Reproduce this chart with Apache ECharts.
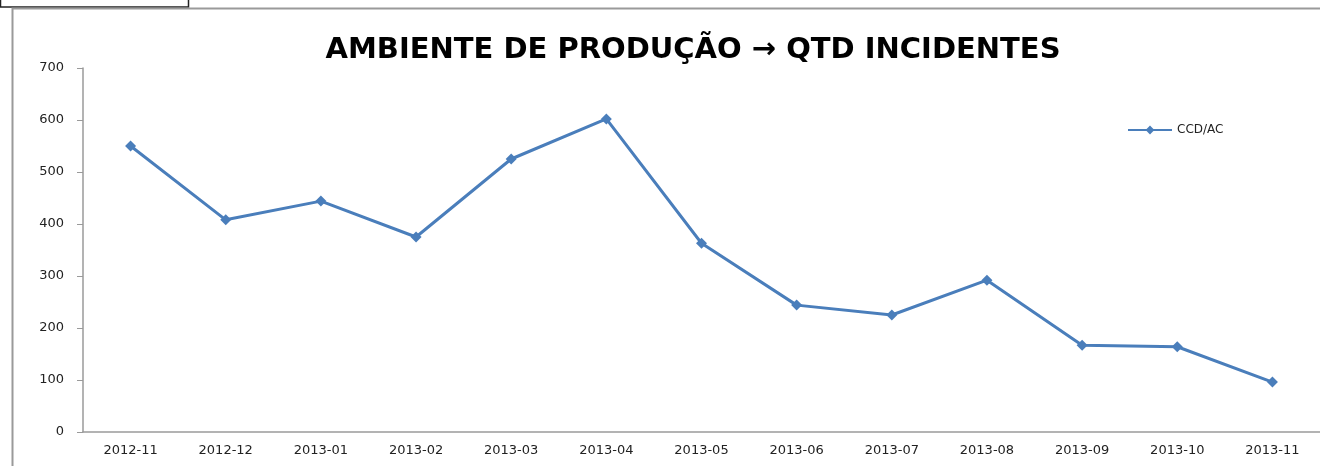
<!DOCTYPE html>
<html>
<head>
<meta charset="utf-8">
<script src="https://cdn.jsdelivr.net/npm/echarts@6/dist/echarts.min.js"></script>
<style>
  html, body { margin: 0; padding: 0; background: #fff; }
  #chart { width: 1320px; height: 466px; }
</style>
</head>
<body>
<div id="chart"></div>
<script>
// meses e quantidade de incidentes
const months = ['2012-11', '2012-12', '2013-01', '2013-02', '2013-03', '2013-04', '2013-05',
  '2013-06', '2013-07', '2013-08', '2013-09', '2013-10', '2013-11']
const ccdAc = [550, 408, 444, 375, 525, 602, 363, 244, 225, 292, 167, 164, 96]

const chart = echarts.init(document.getElementById('chart'))
chart.setOption({
  backgroundColor: '#fff',
  animation: false,
  title: {
    text: 'AMBIENTE DE PRODUÇÃO → QTD INCIDENTES',
    left: 688,
    textAlign: 'center',
    top: 31,
    textStyle: { fontFamily: 'DejaVu Sans', fontWeight: 'bold', fontSize: 29, color: '#000' }
  },
  legend: {
    left: 1122,
    top: 119,
    itemWidth: 44,
    itemHeight: 11,
    itemGap: 4,
    textStyle: { fontFamily: 'DejaVu Sans', fontSize: 12, color: '#222' },
    data: ['CCD/AC']
  },
  graphic: [
    { type: 'rect', shape: { x: 0.5, y: -5, width: 188, height: 12 }, style: { fill: 'none', stroke: '#222', lineWidth: 1.5 } },
    { type: 'rect', shape: { x: 12.5, y: 8.5, width: 1330, height: 480 }, style: { fill: 'none', stroke: '#9a9a9a', lineWidth: 2 } }
  ],
  grid: { left: 83, right: -6, top: 68, bottom: 34 },
  xAxis: {
    type: 'category',
    data: months,
    axisLine: { lineStyle: { color: '#9a9a9a', width: 1.5 } },
    axisTick: { length: 5, lineStyle: { color: '#9a9a9a' } },
    axisLabel: { fontFamily: 'DejaVu Sans', fontSize: 13, color: '#222', margin: 12 }
  },
  yAxis: {
    type: 'value',
    min: 0,
    max: 700,
    interval: 100,
    splitLine: { show: false },
    axisLine: { show: true, lineStyle: { color: '#9a9a9a', width: 1.5 } },
    axisTick: { show: true, length: 6, lineStyle: { color: '#9a9a9a' } },
    axisLabel: { fontFamily: 'DejaVu Sans', fontSize: 13, color: '#222', margin: 19 }
  },
  series: [{
    name: 'CCD/AC',
    type: 'line',
    data: ccdAc,
    symbol: 'diamond',
    symbolSize: 11,
    itemStyle: { color: '#4a7ebb' },
    lineStyle: { color: '#4a7ebb', width: 3 }
  }]
})
</script>
</body>
</html>
